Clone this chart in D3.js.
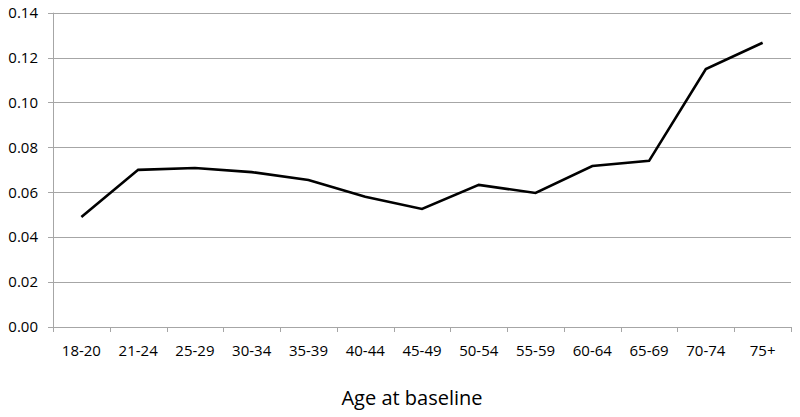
<!DOCTYPE html>
<html lang="en">
<head>
    <meta charset="UTF-8">
    <title>Age at baseline</title>
    <script src="https://cdnjs.cloudflare.com/ajax/libs/d3/7.8.5/d3.min.js"></script>
    <style type="text/css">
        body { margin: 0; background: #fff; }
        text { font-family: "Open Sans", "Liberation Sans", sans-serif; fill: #000; }
    </style>
</head>
<body>
<svg id="chart" width="800" height="417"></svg>
<script>
    var ageGroups = ['18-20', '21-24', '25-29', '30-34', '35-39', '40-44', '45-49',
        '50-54', '55-59', '60-64', '65-69', '70-74', '75+'];
    var rates = [0.049, 0.070, 0.0708, 0.069, 0.0655, 0.058, 0.0526,
        0.0633, 0.0597, 0.0717, 0.074, 0.1149, 0.1266];
    var yTicks = [0, 0.02, 0.04, 0.06, 0.08, 0.10, 0.12, 0.14];

    function drawChart() {
        var svg = d3.select('#chart');
        var plotLeft = 53, plotRight = 791, plotTop = 12.7, plotBottom = 327;

        var x = d3.scaleBand().domain(ageGroups).range([plotLeft, plotRight]);
        var y = d3.scaleLinear().domain([0, 0.14]).range([plotBottom, plotTop]);

        // gridlines
        svg.append('g').selectAll('line')
            .data(yTicks)
            .enter().append('line')
            .attr('x1', plotLeft - 5).attr('x2', plotRight)
            .attr('y1', function (d) { return Math.round(y(d)) + 0.5; })
            .attr('y2', function (d) { return Math.round(y(d)) + 0.5; })
            .attr('stroke', '#a6a6a6').attr('stroke-width', 1);

        // y axis line
        svg.append('line')
            .attr('x1', plotLeft + 0.5).attr('x2', plotLeft + 0.5)
            .attr('y1', plotTop).attr('y2', plotBottom)
            .attr('stroke', '#a6a6a6');

        // y labels
        svg.append('g').selectAll('text')
            .data(yTicks)
            .enter().append('text')
            .attr('x', 38)
            .attr('y', function (d) { return y(d); })
            .attr('dy', '0.35em')
            .attr('text-anchor', 'end')
            .style('font-size', '15px')
            .text(function (d) { return d.toFixed(2); });

        // x tick marks at band boundaries
        var boundaries = ageGroups.map(function (g) { return x(g); }).concat([plotRight]);
        svg.append('g').selectAll('line')
            .data(boundaries)
            .enter().append('line')
            .attr('x1', function (d) { return Math.round(d) + 0.5; })
            .attr('x2', function (d) { return Math.round(d) + 0.5; })
            .attr('y1', plotBottom).attr('y2', plotBottom + 5)
            .attr('stroke', '#a6a6a6');

        // x labels
        svg.append('g').selectAll('text')
            .data(ageGroups)
            .enter().append('text')
            .attr('x', function (d) { return x(d) + x.bandwidth() / 2; })
            .attr('y', 356)
            .attr('text-anchor', 'middle')
            .style('font-size', '15px')
            .text(function (d) { return d; });

        // the line
        var line = d3.line()
            .x(function (d, i) { return x(ageGroups[i]) + x.bandwidth() / 2; })
            .y(function (d) { return y(d); });

        svg.append('path')
            .datum(rates)
            .attr('d', line)
            .attr('fill', 'none')
            .attr('stroke', '#000')
            .attr('stroke-width', 2.6)
            .attr('stroke-linejoin', 'miter');

        // axis title
        svg.append('text')
            .attr('x', 412)
            .attr('y', 405)
            .attr('text-anchor', 'middle')
            .style('font-size', '20px')
            .text('Age at baseline');
    }
    drawChart();
</script>
</body>
</html>
